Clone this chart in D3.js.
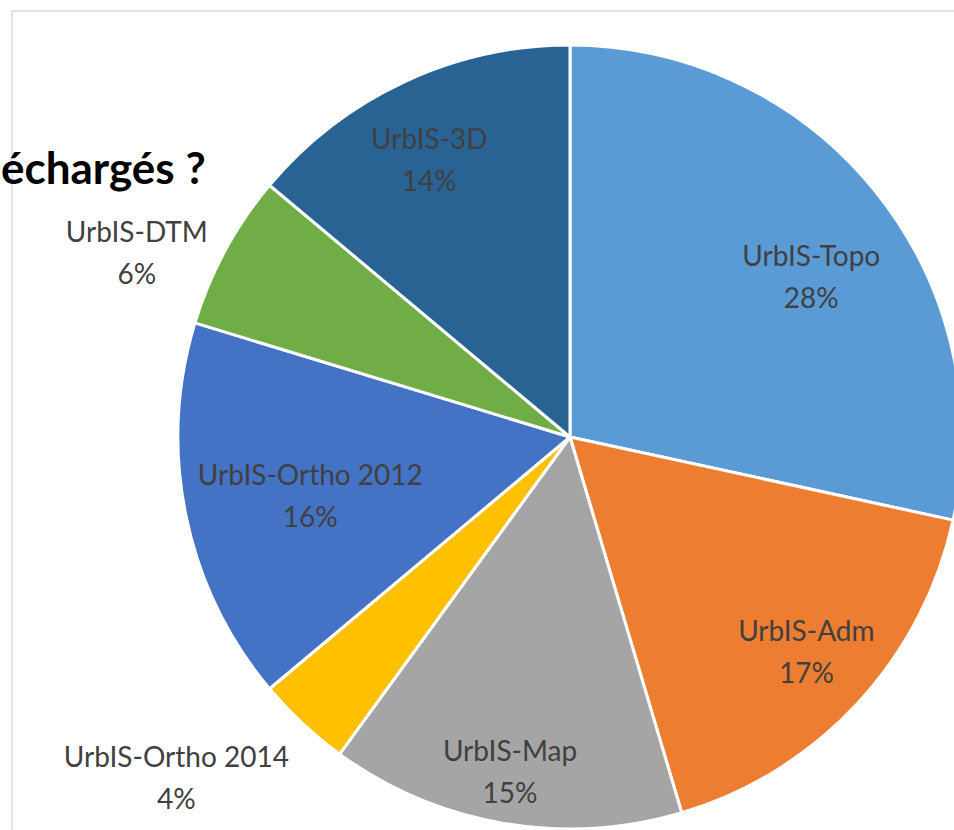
<!DOCTYPE html>
<html lang="fr">
<head>
    <meta charset="UTF-8">
    <title>UrbIS téléchargés</title>
    <script src="https://d3js.org/d3.v7.min.js"></script>
    <style>
        body { margin: 0; background: #fff; }
        svg { display: block; }
    </style>
</head>
<body>
    <div id="chart"></div>

    <script>
        // Data (share of downloads, %)
        const products = ["UrbIS-Topo", "UrbIS-Adm", "UrbIS-Map", "UrbIS-Ortho 2014", "UrbIS-Ortho 2012", "UrbIS-DTM", "UrbIS-3D"];
        const shares = [28.4, 17.0, 14.6, 3.9, 15.8, 6.4, 13.9];
        const colors = ["#5B9BD5", "#ED7D31", "#A5A5A5", "#FFC000", "#4472C4", "#70AD47", "#286394"];
        // only the end of the slide title is visible in the crop
        const title = "échargés ?";

        const width = 954, height = 830;
        const cx = 570, cy = 437, radius = 392;

        // label placement (fraction of radius, angle nudge in degrees), like Excel "best fit"
        const labelRadius = [0.737, 0.817, 0.87, 1.33, 0.68, 1.2, 0.79];
        const labelNudge = [5.5, -0.4, 0.4, 6, -1.5, -5.5, -2];

        const svg = d3.select("#chart").append("svg")
            .attr("width", width)
            .attr("height", height);

        // slide frame
        svg.append("path")
            .attr("d", `M12,${height} V11 H${width}`)
            .attr("fill", "none")
            .attr("stroke", "#D6DCE4")
            .attr("stroke-width", 1.5);

        svg.append("text")
            .attr("x", 1)
            .attr("y", 184)
            .style("font-family", "Lato, 'Open Sans', sans-serif")
            .style("font-weight", 700)
            .style("font-size", "44px")
            .style("fill", "#000")
            .text(title);

        const pie = d3.pie().sort(null).value(d => d);
        const arcs = pie(shares);
        const arc = d3.arc().innerRadius(0).outerRadius(radius);

        const g = svg.append("g").attr("transform", `translate(${cx},${cy})`);

        g.selectAll("path.slice")
            .data(arcs)
            .enter()
            .append("path")
            .attr("class", "slice")
            .attr("d", arc)
            .attr("fill", (d, i) => colors[i])
            .attr("stroke", "#fff")
            .attr("stroke-width", 3)
            .attr("stroke-linejoin", "round");

        const labels = g.selectAll("text.label")
            .data(arcs)
            .enter()
            .append("text")
            .attr("class", "label")
            .attr("text-anchor", "middle")
            .style("font-family", "Lato, 'Open Sans', sans-serif")
            .style("font-size", "28px")
            .style("fill", "#404040")
            .attr("transform", (d, i) => {
                const a = (d.startAngle + d.endAngle) / 2 + labelNudge[i] * Math.PI / 180;
                const r = radius * labelRadius[i];
                return `translate(${r * Math.sin(a)},${-r * Math.cos(a)})`;
            });

        labels.append("tspan")
            .attr("x", 0)
            .attr("y", -12)
            .text((d, i) => products[i]);

        labels.append("tspan")
            .attr("x", 0)
            .attr("y", 30)
            .text(d => Math.round(d.value) + "%");
    </script>
</body>
</html>
